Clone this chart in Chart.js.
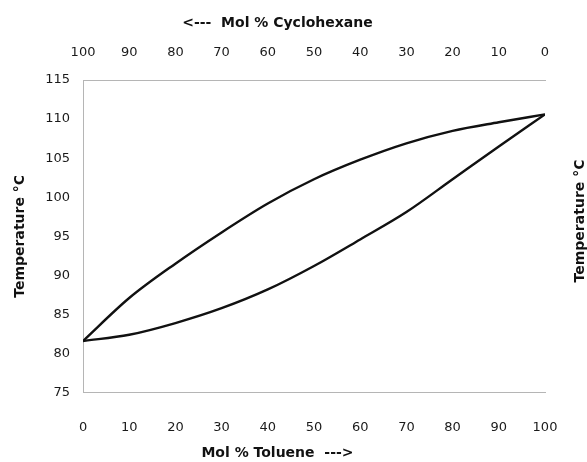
<!DOCTYPE html>
<html>
<head>
<meta charset="utf-8">
<script src="https://cdn.jsdelivr.net/npm/chart.js@4/dist/chart.umd.min.js"></script>
<style>
    html, body { margin: 0; padding: 0; background: #fff; }
    #wrap { width: 587px; height: 462px; }
</style>
</head>
<body>
<div id="wrap"><canvas id="phaseChart" width="587" height="462"></canvas></div>
<script>
// Mol % toluene (bottom axis) and the two boundary curves in deg C
const molToluene = [0, 10, 20, 30, 40, 50, 60, 70, 80, 90, 100];
const liquidTemp = [81.6, 82.4, 83.9, 85.8, 88.2, 91.2, 94.6, 98.1, 102.3, 106.5, 110.6];
const vaporTemp = [81.6, 87.1, 91.5, 95.5, 99.2, 102.3, 104.8, 106.9, 108.5, 109.6, 110.6];

const xTicks = [0, 10, 20, 30, 40, 50, 60, 70, 80, 90, 100];
const yTicks = [75, 80, 85, 90, 95, 100, 105, 110, 115];

const bottomTitle = 'Mol % Toluene  --->';
const topTitle = '<---  Mol % Cyclohexane';
const sideTitle = 'Temperature °C';

document.addEventListener('DOMContentLoaded', function() {
    const fontFamily = '"DejaVu Sans", Verdana, sans-serif';
    const tickFont = { family: fontFamily, size: 13 };
    const titleFont = { family: fontFamily, size: 14, weight: 'bold' };
    const pad = ' '.repeat(15); // pushes the centred x titles a little to the left

    function toPoints(ys) {
        return molToluene.map((x, i) => ({ x: x, y: ys[i] }));
    }

    // tick marks are kept invisible, their length just spaces the labels out
    function gridOpts(len) {
        return {
            drawOnChartArea: false,
            tickLength: len,
            tickColor: 'rgba(0,0,0,0)'
        };
    }
    const borderOpts = { color: '#b5b5b5', width: 1 };

    // right-hand axis title, reads bottom-to-top like the left one
    const rightTitle = {
        id: 'rightTitle',
        afterDraw(chart) {
            const ctx = chart.ctx;
            ctx.save();
            ctx.translate(580, 221);
            ctx.rotate(-Math.PI / 2);
            ctx.font = 'bold 14px ' + fontFamily;
            ctx.fillStyle = '#111';
            ctx.textAlign = 'center';
            ctx.textBaseline = 'middle';
            ctx.fillText(sideTitle, 0, 0);
            ctx.restore();
        }
    };

    new Chart(document.getElementById('phaseChart').getContext('2d'), {
        type: 'line',
        data: {
            datasets: [
                {
                    label: 'Liquid',
                    data: toPoints(liquidTemp),
                    borderColor: '#111',
                    borderWidth: 2.4,
                    pointRadius: 0,
                    cubicInterpolationMode: 'monotone',
                    fill: false
                },
                {
                    label: 'Vapor',
                    data: toPoints(vaporTemp),
                    borderColor: '#111',
                    borderWidth: 2.4,
                    pointRadius: 0,
                    cubicInterpolationMode: 'monotone',
                    fill: false
                }
            ]
        },
        options: {
            responsive: false,
            animation: false,
            layout: { padding: { left: 9, right: 42, top: 0, bottom: 0 } },
            plugins: {
                legend: { display: false },
                tooltip: { enabled: false }
            },
            scales: {
                x: {
                    type: 'linear',
                    position: 'bottom',
                    min: 0,
                    max: 100,
                    afterBuildTicks: (axis) => { axis.ticks = xTicks.map(v => ({ value: v })); },
                    grid: gridOpts(22.2),
                    border: borderOpts,
                    ticks: { font: tickFont, color: '#1a1a1a', padding: 5, maxRotation: 0 },
                    title: {
                        display: true,
                        text: bottomTitle + pad,
                        font: titleFont,
                        color: '#111',
                        padding: { top: 4.8, bottom: 0 }
                    }
                },
                x2: {
                    type: 'linear',
                    position: 'top',
                    reverse: true,
                    min: 0,
                    max: 100,
                    afterBuildTicks: (axis) => { axis.ticks = xTicks.map(v => ({ value: v })); },
                    grid: gridOpts(14.2),
                    border: borderOpts,
                    ticks: { font: tickFont, color: '#1a1a1a', padding: 5, maxRotation: 0 },
                    title: {
                        display: true,
                        text: topTitle + pad,
                        font: titleFont,
                        color: '#111',
                        padding: { top: 14.6, bottom: 8.8 }
                    }
                },
                y: {
                    type: 'linear',
                    position: 'left',
                    min: 75,
                    max: 115,
                    afterBuildTicks: (axis) => { axis.ticks = yTicks.map(v => ({ value: v })); },
                    grid: gridOpts(8),
                    border: borderOpts,
                    ticks: { font: tickFont, color: '#1a1a1a', padding: 5 },
                    title: {
                        display: true,
                        text: sideTitle,
                        font: titleFont,
                        color: '#111',
                        padding: { top: 2.6, bottom: 11.8 }
                    }
                }
            }
        },
        plugins: [rightTitle]
    });
});
</script>
</body>
</html>
